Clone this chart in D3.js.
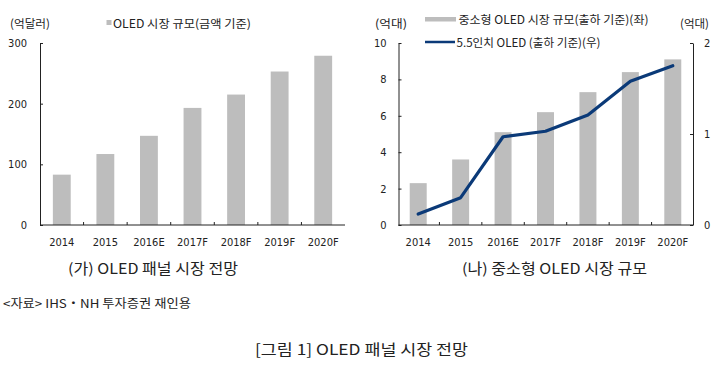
<!DOCTYPE html>
<html><head><meta charset="utf-8">
<script src="https://cdn.jsdelivr.net/npm/d3@7"></script>
<style>
html,body{margin:0;padding:0;background:#fff;}
svg{display:block;}
.num{font-family:"Liberation Sans Narrow","DejaVu Sans Condensed","Liberation Sans",sans-serif;font-size:11px;fill:#222;}
.kr{font-family:"Noto Sans CJK KR","Noto Sans",sans-serif;fill:#222;}
</style></head>
<body>
<svg id="c" width="720" height="365"></svg>
<script>
const categories = ["2014","2015","2016E","2017F","2018F","2019F","2020F"];
const oledMarket = [83, 117, 147, 193, 215, 253, 279];
const smallMidMarket = [2.3, 3.6, 5.1, 6.2, 7.3, 8.4, 9.1];
const oled55Shipments = [0.12, 0.30, 0.97, 1.03, 1.21, 1.58, 1.75];
const leftTicks = [0, 100, 200, 300];
const rightLeftTicks = [0, 2, 4, 6, 8, 10];
const rightRightTicks = [0, 1, 2];

const svg = d3.select("#c");
const barColor = "#bdbdbd";
const lineColor = "#0b3a78";
const axisColor = "#222";

function krText(x, y, str, size, width, anchor) {
  const t = svg.append("text").attr("class","kr").attr("x",x).attr("y",y)
    .attr("font-size",size).attr("dominant-baseline","central")
    .attr("text-anchor",anchor||"start").text(str);
  if (width) t.attr("textLength",width).attr("lengthAdjust","spacingAndGlyphs");
  return t;
}

// ---------- Left chart ----------
const x1 = d3.scaleBand().domain(categories).range([40,345]).paddingInner(0.59).paddingOuter(0.295);
const y1 = d3.scaleLinear().domain([0,300]).range([225,43]);

svg.append("g").selectAll("rect").data(oledMarket).join("rect")
  .attr("x",(d,i)=>x1(categories[i])).attr("width",x1.bandwidth())
  .attr("y",d=>y1(d)).attr("height",d=>y1(0)-y1(d)).attr("fill",barColor);

const gy1 = svg.append("g").attr("transform","translate(40,0)")
  .call(d3.axisLeft(y1).tickValues(leftTicks).tickFormat(d3.format("d")).tickSizeInner(-3).tickSizeOuter(0).tickPadding(13));
gy1.selectAll("text").attr("class","num").attr("font-family",null).attr("font-size",null);
gy1.selectAll("line,path").attr("stroke",axisColor);

const gx1 = svg.append("g").attr("transform","translate(0,225)")
  .call(d3.axisBottom(x1).tickSize(0).tickPadding(13));
gx1.select("path").attr("stroke",axisColor).attr("d","M40,0H345");
gx1.selectAll("text").attr("class","num").attr("font-family",null).attr("font-size",null);
svg.append("g").selectAll("line").data(categories.slice(1)).join("line")
  .attr("x1",d=>x1(d)-x1.step()*x1.paddingInner()/2).attr("x2",d=>x1(d)-x1.step()*x1.paddingInner()/2)
  .attr("y1",225).attr("y2",222).attr("stroke",axisColor);

krText(10,22.5,"(억달러)",11.5,40);
svg.append("rect").attr("x",106.5).attr("y",20).attr("width",5).attr("height",5).attr("fill",barColor);
krText(113,22.5,"OLED 시장 규모(금액 기준)",11.5,138);
krText(68,267,"(가) OLED 패널 시장 전망",14.5,170);

// ---------- Right chart ----------
const x2 = d3.scaleBand().domain(categories).range([397,694]).paddingInner(0.6).paddingOuter(0.3);
const y2 = d3.scaleLinear().domain([0,10]).range([225,43]);
const y3 = d3.scaleLinear().domain([0,2]).range([225,43]);

svg.append("g").selectAll("rect").data(smallMidMarket).join("rect")
  .attr("x",(d,i)=>x2(categories[i])).attr("width",x2.bandwidth())
  .attr("y",d=>y2(d)).attr("height",d=>y2(0)-y2(d)).attr("fill",barColor);

const gy2 = svg.append("g").attr("transform","translate(398.5,0)")
  .call(d3.axisLeft(y2).tickValues(rightLeftTicks).tickFormat(d3.format("d")).tickSizeInner(-3).tickSizeOuter(0).tickPadding(12));
gy2.selectAll("text").attr("class","num").attr("font-family",null).attr("font-size",null);
gy2.selectAll("line,path").attr("stroke",axisColor);

const gy3 = svg.append("g").attr("transform","translate(693,0)")
  .call(d3.axisRight(y3).tickValues(rightRightTicks).tickFormat(d3.format("d")).tickSizeInner(-3).tickSizeOuter(0).tickPadding(11));
gy3.selectAll("text").attr("class","num").attr("font-family",null).attr("font-size",null);
gy3.selectAll("line,path").attr("stroke",axisColor);

const gx2 = svg.append("g").attr("transform","translate(0,225)")
  .call(d3.axisBottom(x2).tickSize(0).tickPadding(13));
gx2.select("path").attr("stroke",axisColor).attr("d","M398.5,0H693");
gx2.selectAll("text").attr("class","num").attr("font-family",null).attr("font-size",null);
svg.append("g").selectAll("line").data(categories.slice(1)).join("line")
  .attr("x1",d=>x2(d)-x2.step()*x2.paddingInner()/2).attr("x2",d=>x2(d)-x2.step()*x2.paddingInner()/2)
  .attr("y1",225).attr("y2",222).attr("stroke",axisColor);

const line = d3.line().x((d,i)=>x2(categories[i])+x2.bandwidth()/2).y(d=>y3(d));
svg.append("path").datum(oled55Shipments).attr("d",line)
  .attr("fill","none").attr("stroke",lineColor).attr("stroke-width",3.2).attr("stroke-linejoin","round").attr("stroke-linecap","round");

krText(375,22.5,"(억대)",11.5,32);
krText(680,22.5,"(억대)",11.5,29);
svg.append("rect").attr("x",425).attr("y",17).attr("width",31).attr("height",4.5).attr("fill",barColor);
krText(458.5,19,"중소형 OLED 시장 규모(출하 기준)(좌)",11.5,190);
svg.append("line").attr("x1",425).attr("x2",455).attr("y1",42).attr("y2",42).attr("stroke",lineColor).attr("stroke-width",2.5);
krText(456.5,42,"5.5인치 OLED (출하 기준)(우)",11.5,144);
krText(462,267,"(나) 중소형 OLED 시장 규모",14.5,185);

// ---------- Footer ----------
krText(3,302.5,"<자료> IHS・NH 투자증권 재인용",12,188);
krText(255,348.5,"[그림 1] OLED 패널 시장 전망",15,213);
</script>
</body></html>
